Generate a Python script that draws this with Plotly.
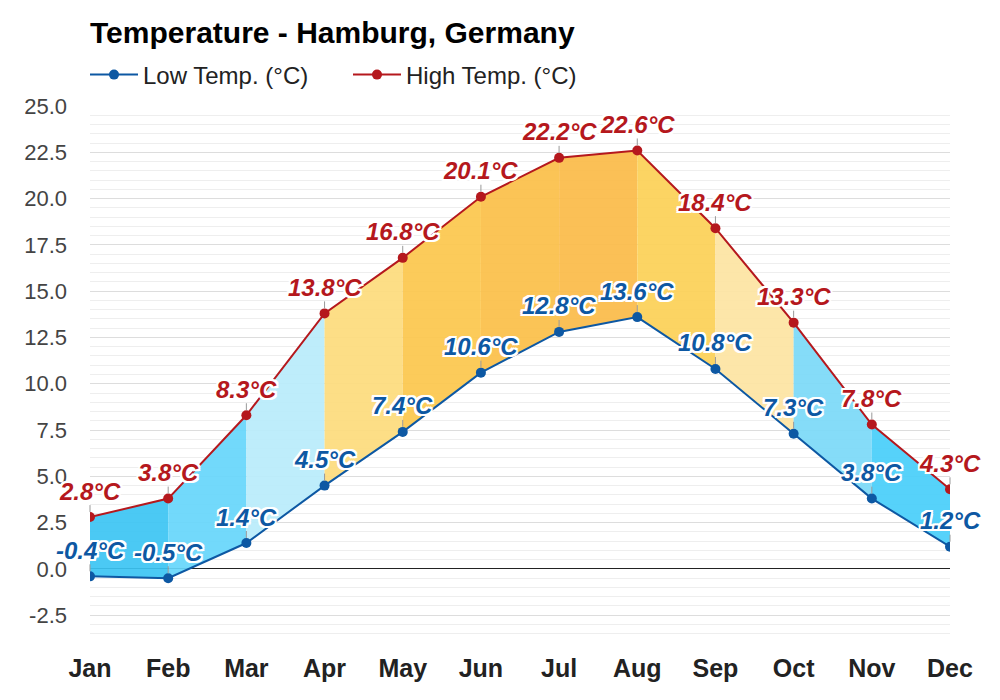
import plotly.graph_objects as go

months = ["Jan", "Feb", "Mar", "Apr", "May", "Jun",
          "Jul", "Aug", "Sep", "Oct", "Nov", "Dec"]
low_temp = [-0.4, -0.5, 1.4, 4.5, 7.4, 10.6, 12.8, 13.6, 10.8, 7.3, 3.8, 1.2]
high_temp = [2.8, 3.8, 8.3, 13.8, 16.8, 20.1, 22.2, 22.6, 18.4, 13.3, 7.8, 4.3]
y_ticks = [-2.5, 0.0, 2.5, 5.0, 7.5, 10.0, 12.5, 15.0, 17.5, 20.0, 22.5, 25.0]
y_tick_labels = ["-2.5", "0.0", "2.5", "5.0", "7.5", "10.0", "12.5",
                 "15.0", "17.5", "20.0", "22.5", "25.0"]

# colour of the band between month i and month i+1
band_colors = ["#3cc4f3", "#66d6fb", "#b8ecfb", "#fddb7c", "#fcc74c", "#fbbf48",
               "#fbbb48", "#fcd056", "#fde4a2", "#7bd9f7", "#48cefa"]

FONT = "Liberation Sans, Arial, sans-serif"
LOW_COL = "#0d58a3"
HIGH_COL = "#b5181d"
OUTLINE = ("-2px -2px 0 #fff, 2px -2px 0 #fff, -2px 2px 0 #fff, 2px 2px 0 #fff, "
           "0 -2px 0 #fff, 0 2px 0 #fff, -2px 0 0 #fff, 2px 0 0 #fff")

fig = go.Figure()

# filled bands between the two lines
for i, col in enumerate(band_colors):
    fig.add_trace(go.Scatter(
        x=[months[i], months[i + 1], months[i + 1], months[i], months[i]],
        y=[low_temp[i], low_temp[i + 1], high_temp[i + 1], high_temp[i], low_temp[i]],
        mode="lines", fill="toself", fillcolor=col, opacity=0.92,
        line=dict(width=0), hoverinfo="skip", showlegend=False))

fig.add_trace(go.Scatter(x=months, y=low_temp, mode="lines+markers",
                         name="Low Temp. (°C)",
                         line=dict(color=LOW_COL, width=2),
                         marker=dict(color=LOW_COL, size=10)))
fig.add_trace(go.Scatter(x=months, y=high_temp, mode="lines+markers",
                         name="High Temp. (°C)",
                         line=dict(color=HIGH_COL, width=2),
                         marker=dict(color=HIGH_COL, size=10)))

# value labels with a short grey leader line
annotations = []
for series, col in ((low_temp, LOW_COL), (high_temp, HIGH_COL)):
    for m, v in zip(months, series):
        annotations.append(dict(
            x=m, y=v, text=f"{v:.1f}°C", showarrow=True, arrowhead=0,
            arrowwidth=1, arrowcolor="#999999", ax=0, ay=-26, standoff=5,
            borderpad=0,
            font=dict(family=FONT, size=24, color=col, weight="bold",
                      style="italic", shadow=OUTLINE)))

fig.update_layout(
    width=1000, height=700,
    paper_bgcolor="white", plot_bgcolor="white",
    margin=dict(l=82, r=58, t=98, b=65),
    font=dict(family=FONT, color="#222222"),
    title=dict(text="<b>Temperature - Hamburg, Germany</b>",
               font=dict(size=30, color="#000000", family=FONT),
               x=0.082, xanchor="left", xref="container",
               y=1 - 24 / 700, yanchor="middle", yref="container"),
    legend=dict(orientation="h", x=0.077, xanchor="left", xref="container",
                y=1 - 67 / 700, yanchor="middle", yref="container",
                font=dict(size=24, color="#222222"),
                itemwidth=48, entrywidth=200, bgcolor="rgba(0,0,0,0)"),
    annotations=annotations,
    hovermode=False,
)

fig.update_xaxes(type="category", range=[0, 11], showgrid=False,
                 automargin=False,
                 tickfont=dict(size=25, color="#222222", weight="bold"),
                 ticks="", ticklabelstandoff=8, showline=False)
fig.update_yaxes(range=[-4, 25], tickvals=y_ticks, ticktext=y_tick_labels,
                 automargin=False,
                 showgrid=True, gridcolor="#dddddd", gridwidth=1,
                 minor=dict(dtick=0.5, tick0=0, showgrid=True, gridcolor="#eeeeee"),
                 zeroline=True, zerolinecolor="#222222", zerolinewidth=1,
                 tickfont=dict(size=22, color="#444444"),
                 ticks="", ticklabelstandoff=22)

fig.write_html("out.html")
